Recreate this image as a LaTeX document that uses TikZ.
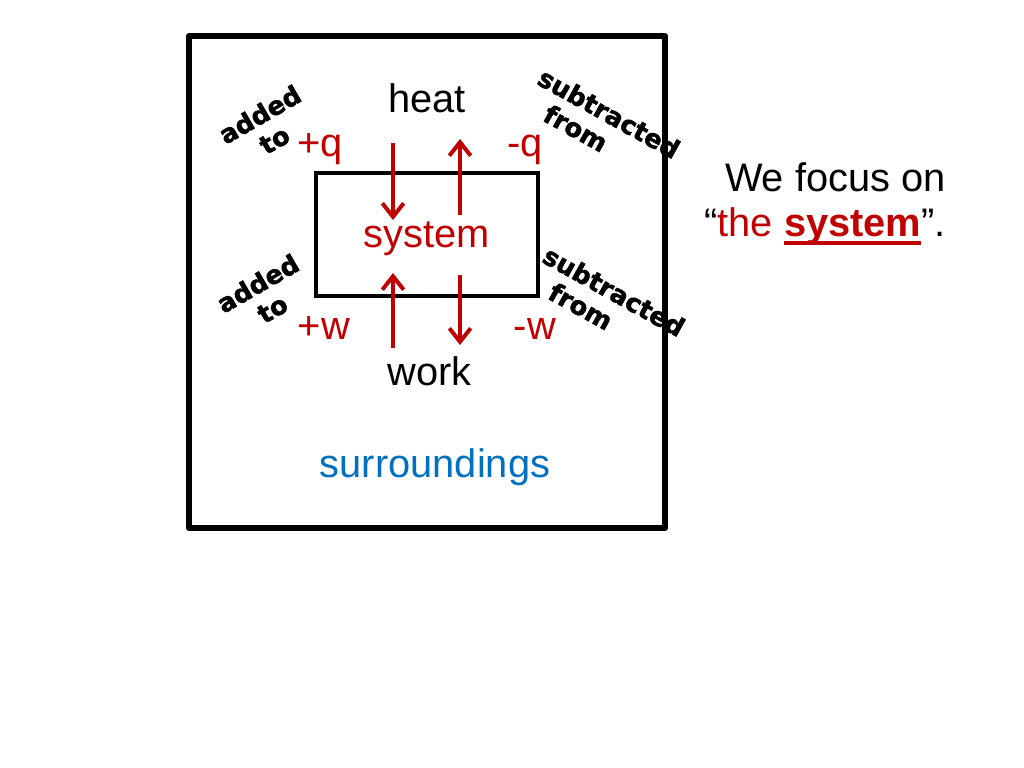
\documentclass[tikz,border=0pt]{standalone}
\usepackage{fontspec}
\setmainfont{Liberation Sans}
\newfontfamily\heavyfont[FakeBold=1.6]{DejaVu Sans Bold}
\usetikzlibrary{arrows.meta}

\definecolor{sysred}{RGB}{192,0,0}
\definecolor{surrblue}{RGB}{0,112,192}

\newlength{\du}
\setlength{\du}{0.703125pt}

% thick underline in the current colour
\newcommand{\sysul}[1]{\setbox0\hbox{#1}\rlap{\rule[-5.4pt]{\wd0}{2.6pt}}\box0}

\tikzset{
  frame/.style={draw=black, line width=4.2pt, line join=round},
  sysbox/.style={draw=black, line width=2.6pt},
  flow/.style={draw=sysred, line width=2.8pt, -{Straight Barb[length=9.5pt,width=15pt,line width=2.8pt]}},
  word/.style={inner sep=0pt, anchor=base, font=\fontsize{28}{33}\selectfont},
  tag/.style={inner sep=0pt, align=center, font=\heavyfont\fontsize{18}{20.5}\selectfont}
}

\begin{document}
\begin{tikzpicture}
\pgftransformyscale{-1.000000}
\useasboundingbox (0\du,0\du) rectangle (1024\du,768\du);
% surroundings and system
\draw[frame] (189\du,36\du) rectangle (665\du,528\du);
\node (sys) [sysbox, minimum width=222\du, minimum height=123\du, inner sep=0pt] at (427\du,234.5\du) {};
% texts
\node (heat) [word] at (427\du,113\du) {heat};
\node (system) [word, text=sysred] at (427\du,248\du) {system};
\node (work) [word] at (429.5\du,385\du) {work};
\node (surr) [word, text=surrblue] at (435\du,477\du) {surroundings};
\node (qplus) [word, text=sysred] at (320\du,157\du) {+q};
\node (qminus) [word, text=sysred] at (525\du,157\du) {-q};
\node (wplus) [word, text=sysred] at (324\du,340\du) {+w};
\node (wminus) [word, text=sysred] at (535\du,340\du) {-w};
% arrows
\coordinate (qin a) at (393\du,143\du);
\coordinate (qin b) at (393\du,220\du);
\coordinate (qout a) at (460\du,215\du);
\coordinate (qout b) at (460\du,139\du);
\coordinate (win a) at (393\du,348\du);
\coordinate (win b) at (393\du,273\du);
\coordinate (wout a) at (460\du,275\du);
\coordinate (wout b) at (460\du,345\du);
\draw[flow] (qin a) -- (qin b);
\draw[flow] (qout a) -- (qout b);
\draw[flow] (win a) -- (win b);
\draw[flow] (wout a) -- (wout b);
% rotated labels
\node (addq) [tag, rotate=30] at (267\du,127\du) {added\\to};
\node (addw) [tag, rotate=30] at (265\du,296\du) {added\\to};
\node (subq) [tag, rotate=-29] at (602\du,126\du) {subtracted\\from\hspace*{1.7em}};
\node (subw) [tag, rotate=-29] at (607\du,304\du) {subtracted\\from\hspace*{1.7em}};
% focus text
\node (focus1) [word, anchor=base east] at (946\du,192\du) {We focus on};
\node (focus2) [word, anchor=base east] at (946\du,237\du) {``\textcolor{sysred}{the \sysul{\textbf{system}}}''.};
\end{tikzpicture}
\end{document}
